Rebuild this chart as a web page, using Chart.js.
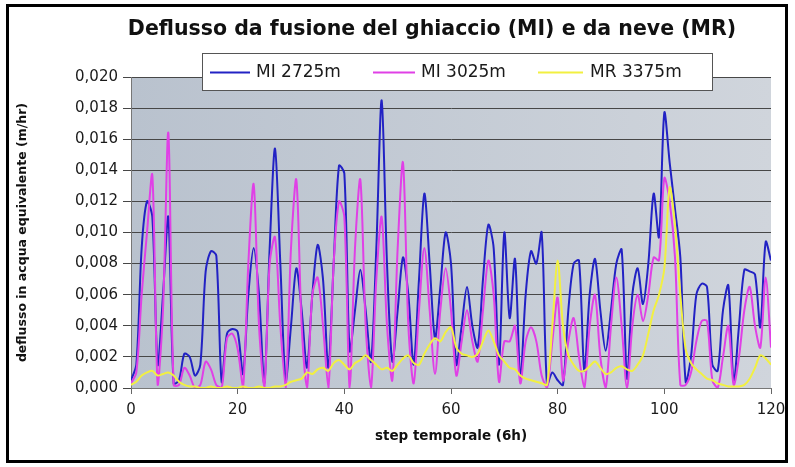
<!DOCTYPE html>
<html>
<head>
<meta charset="utf-8">
<script src="https://cdn.jsdelivr.net/npm/chart.js@4.4.1/dist/chart.umd.min.js"></script>
<style>
  html, body { margin: 0; padding: 0; background: #ffffff; }
  #wrap { position: relative; width: 795px; height: 467px; }
</style>
</head>
<body>
<div id="wrap"><canvas id="chart" width="795" height="467"></canvas></div>
<script>
const steps = Array.from({ length: 121 }, (_, i) => i);

const mi2725 = [
  0.0005, 0.0015, 0.0090, 0.0120, 0.0110, 0.0015, 0.0060, 0.0110, 0.0003, 0.0005,
  0.0022, 0.0020, 0.0008, 0.0015, 0.0075, 0.0088, 0.0085, 0.0004, 0.0035, 0.0038,
  0.0036, 0.0009, 0.0060, 0.0090, 0.0060, 0.0003, 0.0090, 0.0154, 0.0080, 0.0005,
  0.0040, 0.0077, 0.0050, 0.0013, 0.0060, 0.0092, 0.0070, 0.0013, 0.0080, 0.0143,
  0.0138, 0.0024, 0.0050, 0.0076, 0.0050, 0.0017, 0.0090, 0.0185, 0.0080, 0.0017,
  0.0050, 0.0084, 0.0060, 0.0015, 0.0070, 0.0125, 0.0080, 0.0032, 0.0065, 0.0100,
  0.0080, 0.0015, 0.0040, 0.0065, 0.0040, 0.0026, 0.0070, 0.0105, 0.0090, 0.0015,
  0.0100, 0.0045, 0.0083, 0.0006, 0.0060, 0.0088, 0.0080, 0.0100, 0.0002, 0.0010,
  0.0005, 0.0002, 0.0050, 0.0080, 0.0082, 0.0011, 0.0060, 0.0083, 0.0050, 0.0024,
  0.0050, 0.0080, 0.0089, 0.0006, 0.0060, 0.0077, 0.0054, 0.0080, 0.0125, 0.0097,
  0.0177, 0.0145, 0.0115, 0.0084, 0.0004, 0.0020, 0.0060, 0.0067, 0.0065, 0.0015,
  0.0011, 0.0050, 0.0066, 0.0004, 0.0040, 0.0076, 0.0075, 0.0073, 0.0039, 0.0094,
  0.0082
];

const mi3025 = [
  0.0003, 0.0010, 0.0060, 0.0100, 0.0137, 0.0002, 0.0050, 0.0164, 0.0002, 0.0002,
  0.0013, 0.0008, 0.0000, 0.0002, 0.0017, 0.0012, 0.0002, 0.0000, 0.0032, 0.0035,
  0.0025, 0.0000, 0.0080, 0.0131, 0.0040, 0.0000, 0.0080, 0.0097, 0.0040, 0.0000,
  0.0090, 0.0134, 0.0040, 0.0000, 0.0060, 0.0071, 0.0040, 0.0000, 0.0080, 0.0120,
  0.0110, 0.0000, 0.0090, 0.0134, 0.0040, 0.0000, 0.0070, 0.0110, 0.0040, 0.0005,
  0.0090, 0.0145, 0.0040, 0.0003, 0.0050, 0.0090, 0.0050, 0.0009, 0.0050, 0.0077,
  0.0050, 0.0008, 0.0030, 0.0050, 0.0030, 0.0017, 0.0050, 0.0082, 0.0060, 0.0004,
  0.0030, 0.0030, 0.0040, 0.0003, 0.0030, 0.0039, 0.0030, 0.0008, 0.0000, 0.0030,
  0.0058, 0.0005, 0.0030, 0.0045, 0.0020, 0.0000, 0.0040, 0.0060, 0.0020, 0.0000,
  0.0040, 0.0071, 0.0040, 0.0000, 0.0040, 0.0060, 0.0043, 0.0060, 0.0084, 0.0082,
  0.0135, 0.0120, 0.0084, 0.0002, 0.0002, 0.0010, 0.0030, 0.0043, 0.0043, 0.0005,
  0.0000, 0.0020, 0.0040, 0.0002, 0.0020, 0.0050, 0.0065, 0.0040, 0.0026, 0.0071,
  0.0026
];

const mr3375 = [
  0.0002, 0.0004, 0.0008, 0.0010, 0.0011, 0.0008, 0.0009, 0.0010, 0.0008, 0.0004,
  0.0002, 0.0001, 0.0001, 0.0000, 0.0000, 0.0001, 0.0000, 0.0000, 0.0001, 0.0000,
  0.0000, 0.0001, 0.0000, 0.0000, 0.0001, 0.0000, 0.0000, 0.0001, 0.0001, 0.0002,
  0.0004, 0.0005, 0.0006, 0.0010, 0.0009, 0.0012, 0.0013, 0.0011, 0.0016, 0.0018,
  0.0015, 0.0012, 0.0016, 0.0018, 0.0021, 0.0018, 0.0015, 0.0012, 0.0013, 0.0011,
  0.0015, 0.0019, 0.0021, 0.0016, 0.0015, 0.0022, 0.0028, 0.0032, 0.0030, 0.0036,
  0.0039, 0.0026, 0.0022, 0.0021, 0.0020, 0.0022, 0.0030, 0.0037, 0.0030, 0.0021,
  0.0017, 0.0013, 0.0012, 0.0008, 0.0006, 0.0005, 0.0004, 0.0003, 0.0002, 0.0040,
  0.0082, 0.0040, 0.0021, 0.0015, 0.0011, 0.0011, 0.0014, 0.0017, 0.0013, 0.0009,
  0.0010, 0.0013, 0.0014, 0.0012, 0.0011, 0.0015, 0.0021, 0.0035, 0.0050, 0.0060,
  0.0077, 0.0129, 0.0105, 0.0060, 0.0025, 0.0016, 0.0012, 0.0009, 0.0006, 0.0005,
  0.0003, 0.0002, 0.0001, 0.0001, 0.0001, 0.0002, 0.0006, 0.0013, 0.0021, 0.0019,
  0.0015
];

const seriesNames = ['MI 2725m', 'MI 3025m', 'MR 3375m'];
const seriesColors = ['#2222c4', '#e040e6', '#f2f040'];
const chartTitle = 'Deflusso da fusione del ghiaccio (MI) e da neve (MR)';

// frame, title, plot background and the legend box that sits over the plot top
const decor = {
  id: 'decor',
  beforeDraw(chart) {
    const ctx = chart.ctx;
    const a = chart.chartArea;
    ctx.save();
    const g = ctx.createLinearGradient(a.left, 0, a.right, 0);
    g.addColorStop(0, '#b9c2ce');
    g.addColorStop(1, '#d0d5dc');
    ctx.fillStyle = g;
    ctx.fillRect(a.left, a.top, a.right - a.left, a.bottom - a.top);
    ctx.restore();
  },
  afterDraw(chart) {
    const ctx = chart.ctx;
    ctx.save();
    ctx.strokeStyle = '#000';
    ctx.lineWidth = 3;
    ctx.strokeRect(7.5, 5.5, 779, 456);

    ctx.fillStyle = '#111';
    ctx.font = 'bold 20.5px "DejaVu Sans"';
    ctx.textAlign = 'center';
    ctx.textBaseline = 'middle';
    ctx.fillText(chartTitle, 432, 30);

    const box = { x: 202, y: 53, w: 510, h: 37 };
    ctx.fillStyle = '#fff';
    ctx.fillRect(box.x, box.y, box.w, box.h);
    ctx.strokeStyle = '#555';
    ctx.lineWidth = 1;
    ctx.strokeRect(box.x + 0.5, box.y + 0.5, box.w, box.h);

    const items = [[210, 250, 256], [373, 415, 421], [538, 583, 590]];
    const cy = box.y + box.h / 2 + 1;
    ctx.font = '17px "DejaVu Sans"';
    ctx.textAlign = 'left';
    items.forEach((it, k) => {
      ctx.strokeStyle = seriesColors[k];
      ctx.lineWidth = 2;
      ctx.beginPath();
      ctx.moveTo(it[0], cy);
      ctx.lineTo(it[1], cy);
      ctx.stroke();
      ctx.fillStyle = '#1a1a1a';
      ctx.fillText(seriesNames[k], it[2], cy);
    });
    ctx.restore();
  }
};

const ctx = document.getElementById('chart').getContext('2d');
new Chart(ctx, {
  type: 'line',
  data: {
    labels: steps,
    datasets: [mi2725, mi3025, mr3375].map((d, k) => ({
      label: seriesNames[k],
      data: d,
      borderColor: seriesColors[k],
      borderWidth: 2,
      pointRadius: 0,
      tension: 0.3,
      fill: false,
      order: 2 - k
    }))
  },
  options: {
    responsive: false,
    animation: false,
    devicePixelRatio: 1,
    layout: { padding: { left: 12, right: 24, top: 77, bottom: 14 } },
    plugins: {
      legend: { display: false },
      tooltip: { enabled: false },
      title: { display: false }
    },
    scales: {
      x: {
        type: 'linear',
        min: 0,
        max: 120,
        afterFit: s => { s.height = 65; },
        grid: { display: true, drawOnChartArea: false, drawTicks: true, tickLength: 6, color: '#666' },
        border: { color: '#777', width: 1 },
        ticks: {
          stepSize: 20,
          padding: 7,
          maxRotation: 0,
          color: '#1a1a1a',
          font: { family: '"DejaVu Sans"', size: 15 }
        },
        title: {
          display: true,
          text: 'step temporale (6h)',
          color: '#111',
          font: { family: '"DejaVu Sans"', size: 13.5, weight: 'bold' },
          padding: { top: 4, bottom: 8 }
        }
      },
      y: {
        min: 0,
        max: 0.02,
        afterFit: s => { s.width = 119; },
        grid: { color: '#474747', lineWidth: 1, tickLength: 8 },
        border: { color: '#777', width: 1 },
        ticks: {
          stepSize: 0.002,
          padding: 5,
          color: '#1a1a1a',
          font: { family: '"DejaVu Sans"', size: 15 },
          callback: v => v.toFixed(3).replace('.', ',')
        },
        title: {
          display: true,
          text: 'deflusso in acqua equivalente (m/hr)',
          color: '#111',
          font: { family: '"DejaVu Sans"', size: 12.5, weight: 'bold' },
          padding: { top: 3, bottom: 4 }
        }
      }
    }
  },
  plugins: [decor]
});
</script>
</body>
</html>
